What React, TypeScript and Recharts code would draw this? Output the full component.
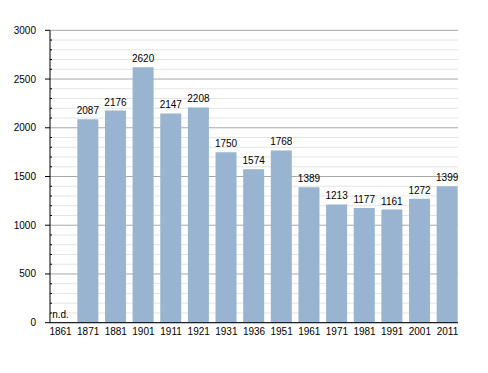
import React from "react";
import {
  BarChart,
  Bar,
  XAxis,
  YAxis,
  CartesianGrid,
  LabelList,
  ReferenceDot,
} from "recharts";

const years = ["1861", "1871", "1881", "1901", "1911", "1921", "1931", "1936", "1951", "1961", "1971", "1981", "1991", "2001", "2011"];
const population: (number | null)[] = [null, 2087, 2176, 2620, 2147, 2208, 1750, 1574, 1768, 1389, 1213, 1177, 1161, 1272, 1399];
const yTicks = [
  0, 100, 200, 300, 400, 500, 600, 700, 800, 900, 1000, 1100, 1200, 1300, 1400, 1500,
  1600, 1700, 1800, 1900, 2000, 2100, 2200, 2300, 2400, 2500, 2600, 2700, 2800, 2900, 3000,
];
const yMax = 3000;
const majorStep = 500;

const data = years.map((year, i) => ({ year, value: population[i] }));

const FONT = "'Liberation Sans', Arial, sans-serif";
const FONT_SIZE = 10;
const TICK_SIZE = 5;
const TICK_MARGIN = 9;

const YTick = (props: any) => {
  const { x, y, payload } = props;
  const axisX = x + TICK_SIZE + TICK_MARGIN;
  const major = payload.value % majorStep === 0;
  return (
    <g>
      {major ? (
        <>
          <line x1={axisX - TICK_SIZE} x2={axisX} y1={y} y2={y} stroke="#000" />
          <text x={x} y={y} dy="0.35em" textAnchor="end" fontSize={FONT_SIZE} fontFamily={FONT} fill="#000">
            {payload.value}
          </text>
        </>
      ) : (
        <line x1={axisX} x2={axisX + 2} y1={y} y2={y} stroke="#000" />
      )}
    </g>
  );
};

const GridLine = (props: any) => {
  const { x1, x2, y1, y, height } = props;
  const v = Math.round(((y + height - y1) / height) * yMax);
  const major = v % majorStep === 0;
  return <line x1={x1} x2={x2} y1={y1} y2={y1} stroke={major ? "#a8a8a8" : "#e4e4e4"} strokeWidth={1} />;
};

const BarLabel = (props: any) => {
  const { x, y, width, value } = props;
  if (value == null) return null;
  return (
    <text x={x + width / 2} y={y - 5} textAnchor="middle" fontSize={FONT_SIZE} fontFamily={FONT} fill="#000">
      {value}
    </text>
  );
};

export default function App() {
  return (
    <div style={{ width: 480, height: 365, background: "#fff" }}>
      <BarChart
        width={480}
        height={365}
        data={data}
        margin={{ top: 22.3, right: 30, bottom: 20.3, left: 0 }}
        barSize={21}
      >
        <CartesianGrid vertical={false} horizontal={(p: any) => <GridLine {...p} />} />
        <XAxis
          dataKey="year"
          padding={{ left: -3.3, right: -3.3 }}
          height={30}
          tickLine={false}
          tickSize={0}
          tickMargin={5}
          axisLine={{ stroke: "#000" }}
          interval={0}
          tick={{ fontSize: FONT_SIZE, fontFamily: FONT, fill: "#000" }}
        />
        <YAxis
          width={42}
          domain={[0, yMax]}
          ticks={yTicks}
          interval={0}
          tickLine={false}
          tickSize={TICK_SIZE}
          tickMargin={TICK_MARGIN}
          axisLine={{ stroke: "#000" }}
          tick={<YTick />}
        />
        <Bar dataKey="value" fill="#98b4d0" isAnimationActive={false}>
          <LabelList dataKey="value" content={<BarLabel />} />
        </Bar>
        <ReferenceDot
          x="1861"
          y={0}
          r={0}
          fill="none"
          stroke="none"
          label={{ value: "n.d.", position: "top", offset: 5, fontSize: FONT_SIZE, fontFamily: FONT, fill: "#000" }}
        />
      </BarChart>
    </div>
  );
}
